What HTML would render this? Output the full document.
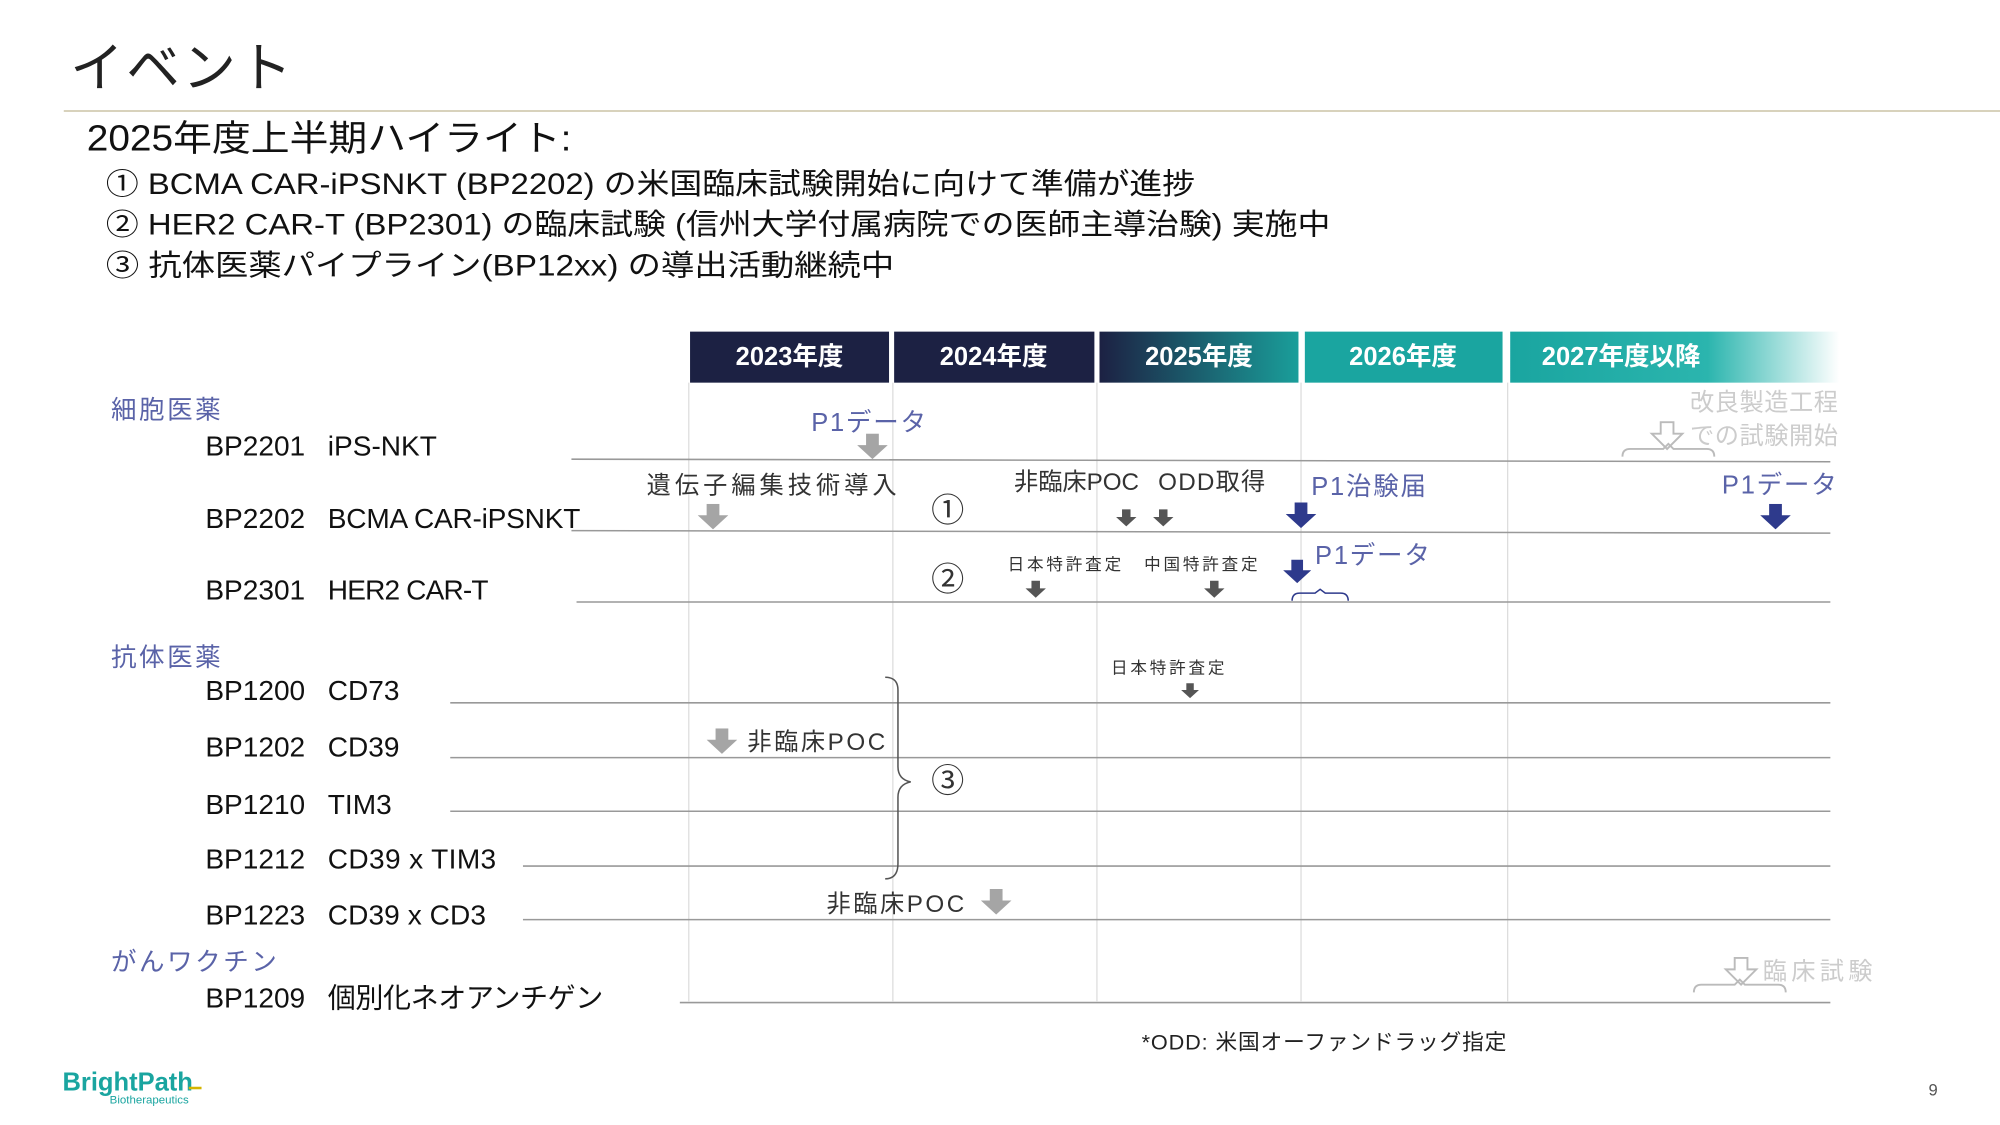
<!DOCTYPE html>
<html><head><meta charset="utf-8">
<style>
html,body{margin:0;padding:0;background:#fff;}
svg{display:block;}
text{font-family:"Liberation Sans","Noto Sans CJK JP",sans-serif;}
</style></head><body>
<svg width="2000" height="1125" viewBox="0 0 1568 882" xmlns="http://www.w3.org/2000/svg">
<defs>
<linearGradient id="g25" x1="0" x2="1" y1="0" y2="0"><stop offset="0" stop-color="#1c2143"/><stop offset="1" stop-color="#1a9e9a"/></linearGradient>
<linearGradient id="g27" x1="0" x2="1" y1="0" y2="0"><stop offset="0" stop-color="#1aa5a0"/><stop offset="0.6" stop-color="#2bb5ae"/><stop offset="1" stop-color="#ffffff"/></linearGradient>
<symbol id="ag" viewBox="0 0 24 20"><path d="M7 0h10v9h7L12 20 0 9h7z"/></symbol>
</defs>
<text x="55" y="68" font-size="42" fill="#222" letter-spacing="2">イベント</text>
<line x1="50" y1="87" x2="1568" y2="87" stroke="#cbc4a6" stroke-width="1.2"/>
<text x="68" y="118" font-size="28" fill="#111" textLength="380" lengthAdjust="spacingAndGlyphs">2025年度上半期ハイライト:</text>
<g font-size="23" fill="#111">
<text x="83" y="152" textLength="854" lengthAdjust="spacingAndGlyphs">① BCMA CAR-iPSNKT (BP2202) の米国臨床試験開始に向けて準備が進捗</text>
<text x="83" y="184" textLength="960" lengthAdjust="spacingAndGlyphs">② HER2 CAR-T (BP2301) の臨床試験 (信州大学付属病院での医師主導治験) 実施中</text>
<text x="83" y="216" textLength="618" lengthAdjust="spacingAndGlyphs">③ 抗体医薬パイプライン(BP12xx) の導出活動継続中</text>
</g>
<rect x="541" y="260" width="156" height="40" fill="#1c2143"/>
<rect x="701" y="260" width="157" height="40" fill="#1c2143"/>
<rect x="862" y="260" width="156" height="40" fill="url(#g25)"/>
<rect x="1023" y="260" width="155" height="40" fill="#1aa5a0"/>
<rect x="1184" y="260" width="258" height="40" fill="url(#g27)"/>
<g font-size="20" font-weight="bold" fill="#fff" text-anchor="middle">
<text x="619" y="286">2023年度</text><text x="779" y="286">2024年度</text><text x="940" y="286">2025年度</text><text x="1100" y="286">2026年度</text><text x="1271" y="286">2027年度以降</text>
</g>
<g stroke="#ddd" stroke-width="1">
<line x1="540" y1="300" x2="540" y2="785"/><line x1="700" y1="300" x2="700" y2="785"/><line x1="860" y1="300" x2="860" y2="785"/><line x1="1020" y1="300" x2="1020" y2="785"/><line x1="1182" y1="300" x2="1182" y2="785"/>
</g>
<g stroke="#999" stroke-width="1.2">
<line x1="448" y1="360" x2="1435" y2="362"/><line x1="448" y1="416" x2="1435" y2="418"/><line x1="452" y1="472" x2="1435" y2="472"/>
<line x1="353" y1="551" x2="1435" y2="551"/><line x1="353" y1="594" x2="1435" y2="594"/><line x1="353" y1="636" x2="1435" y2="636"/>
<line x1="410" y1="679" x2="1435" y2="679"/><line x1="410" y1="721" x2="1435" y2="721"/><line x1="533" y1="786" x2="1435" y2="786"/>
</g>
<g font-size="20" fill="#5a63a8">
<text x="87" y="328" textLength="86">細胞医薬</text><text x="87" y="522" textLength="86">抗体医薬</text><text x="87" y="761" textLength="130">がんワクチン</text>
</g>
<g font-size="22" fill="#111">
<text x="161" y="357">BP2201</text><text x="257" y="357">iPS-NKT</text>
<text x="161" y="414">BP2202</text><text x="257" y="414" textLength="198">BCMA CAR-iPSNKT</text>
<text x="161" y="470">BP2301</text><text x="257" y="470" textLength="126">HER2 CAR-T</text>
<text x="161" y="549">BP1200</text><text x="257" y="549">CD73</text>
<text x="161" y="593">BP1202</text><text x="257" y="593">CD39</text>
<text x="161" y="638">BP1210</text><text x="257" y="638">TIM3</text>
<text x="161" y="681">BP1212</text><text x="257" y="681" textLength="132">CD39 x TIM3</text>
<text x="161" y="725">BP1223</text><text x="257" y="725" textLength="124">CD39 x CD3</text>
<text x="161" y="790">BP1209</text><text x="257" y="790" textLength="216">個別化ネオアンチゲン</text>
</g>
<g font-size="20" fill="#5a63a8">
<text x="636" y="338" textLength="90">P1データ</text>
<text x="1028" y="388" textLength="90">P1治験届</text>
<text x="1350" y="387" textLength="90">P1データ</text>
<text x="1031" y="442" textLength="90">P1データ</text>
</g>
<g font-size="19" fill="#333">
<text x="507" y="387" textLength="196">遺伝子編集技術導入</text>
<text x="795" y="384" textLength="98">非臨床POC</text><text x="908" y="384" textLength="84">ODD取得</text>
<text x="586" y="588" textLength="108">非臨床POC</text>
<text x="648" y="715" textLength="108">非臨床POC</text>
<text x="730" y="409" font-size="26">①</text><text x="730" y="463" font-size="26">②</text><text x="730" y="621" font-size="26">③</text>
</g>
<g font-size="13" fill="#333" letter-spacing="1">
<text x="790" y="447" textLength="90">日本特許査定</text><text x="897" y="447" textLength="90">中国特許査定</text><text x="871" y="528" textLength="90">日本特許査定</text>
</g>
<g font-size="19" fill="#ccc">
<text x="1325" y="322" textLength="116">改良製造工程</text><text x="1325" y="348" textLength="116">での試験開始</text><text x="1382" y="768" textLength="86">臨床試験</text>
</g>
<g fill="#a5a5a5">
<use href="#ag" x="672" y="340" width="24" height="20"/>
<use href="#ag" x="547" y="395" width="24" height="20"/>
<use href="#ag" x="554" y="571" width="24" height="20"/>
<use href="#ag" x="768" y="697" width="26" height="20"/>
</g>
<g fill="#555">
<use href="#ag" x="875" y="396" width="16" height="20"/>
<use href="#ag" x="904" y="396" width="16" height="20"/>
<use href="#ag" x="804" y="453" width="16" height="18"/>
<use href="#ag" x="944" y="453" width="16" height="18"/>
<use href="#ag" x="926" y="533" width="14" height="17"/>
</g>
<g fill="#2e3a8c">
<use href="#ag" x="1008" y="394" width="24" height="20"/>
<use href="#ag" x="1380" y="395" width="24" height="20"/>
<use href="#ag" x="1006" y="438" width="22" height="20"/>
</g>
<g fill="none" stroke="#bbb" stroke-width="1.5">
<path d="M1302 331h10v9h7l-12 12-12-12h7z"/>
<path d="M1360 751h10v9h7l-12 12-12-12h7z"/>
<path d="M1272 358q0-6 6-6h26l4-4 4 4h26q6 0 6 6"/>
<path d="M1328 778q0-6 6-6h26l4-4 4 4h26q6 0 6 6"/>
</g>
<path d="M1013 471q0-6 6-6h12l4-3 4 3h12q6 0 6 6" fill="none" stroke="#2e3a8c" stroke-width="1.2"/>
<path d="M694 531q10 0 10 10v60q0 10 10 12q-10 2-10 12v52q0 12-10 12" fill="none" stroke="#555" stroke-width="1.2"/>
<text x="895" y="823" font-size="17" fill="#222" textLength="286">*ODD: 米国オーファンドラッグ指定</text>
<text x="49" y="855" font-size="20" font-weight="bold" fill="#1aa5a0">BrightPath</text>
<line x1="148" y1="853" x2="158" y2="853" stroke="#d4b400" stroke-width="2"/>
<text x="86" y="865" font-size="9" fill="#1aa5a0">Biotherapeutics</text>
<text x="1512" y="859" font-size="13" fill="#555">9</text>
</svg>
</body></html>
